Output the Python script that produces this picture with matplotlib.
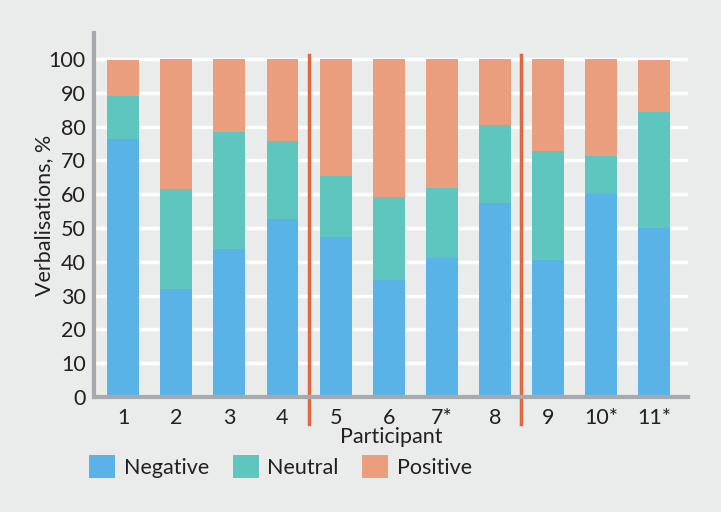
import matplotlib.pyplot as plt
import numpy as np

# Data (% of verbalisations per participant)
participants = ['1', '2', '3', '4', '5', '6', '7*', '8', '9', '10*', '11*']
negative = [76.3, 32.0, 43.8, 52.7, 47.3, 34.5, 41.0, 57.5, 40.5, 60.1, 49.9]
neutral = [12.7, 29.6, 34.6, 23.0, 18.0, 24.6, 20.8, 22.9, 32.2, 11.1, 34.5]
positive = [10.8, 38.4, 21.6, 24.3, 34.7, 40.9, 38.2, 19.6, 27.3, 28.8, 15.4]
group_breaks = [3.5, 7.5]

bg = '#eaeceb'
c_neg = '#5ab3e6'
c_neu = '#5ec6bf'
c_pos = '#ea9e7e'
c_line = '#e06840'
c_axis = '#a8a9ad'
c_text = '#231f20'

plt.rcParams['font.family'] = ['Lato', 'DejaVu Sans']
fs = 15.5

fig = plt.figure(figsize=(7.21, 5.12), dpi=100, facecolor=bg)
ax = fig.add_axes([0.1304, 0.2246, 0.824, 0.711])
ax.set_facecolor(bg)

x = np.arange(len(participants))
neg = np.array(negative)
neu = np.array(neutral)
pos = np.array(positive)
w = 0.6
ax.bar(x, neg, w, color=c_neg, label='Negative', zorder=3)
ax.bar(x, neu, w, bottom=neg, color=c_neu, label='Neutral', zorder=3)
ax.bar(x, pos, w, bottom=neg + neu, color=c_pos, label='Positive', zorder=3)

for b in group_breaks:
    ax.plot([b, b], [-8, 101.2], color=c_line, lw=2.5, clip_on=False, zorder=4)

ax.set_xlim(-0.55, 10.64)
ax.set_ylim(0, 107.7)
ax.set_yticks(range(0, 101, 10))
ax.set_xticks(x)
ax.set_xticklabels(participants)
ax.tick_params(length=0, colors=c_text, labelsize=fs)
ax.tick_params(axis='y', pad=6)
ax.tick_params(axis='x', pad=8)
ax.yaxis.grid(True, color='white', lw=2.5, zorder=0)
ax.set_axisbelow(True)

for s in ['top', 'right']:
    ax.spines[s].set_visible(False)
for s in ['left', 'bottom']:
    ax.spines[s].set_color(c_axis)
    ax.spines[s].set_linewidth(3)
    ax.spines[s].set_zorder(5)

ax.set_ylabel('Verbalisations, %', color=c_text, fontsize=fs, labelpad=-4)
ax.set_xlabel('Participant', color=c_text, fontsize=fs, labelpad=-1)

fig.legend(loc='lower left', bbox_to_anchor=(0.112, 0.05), ncol=3, frameon=False,
           handlelength=1.2, handleheight=1.2, handletextpad=0.4,
           columnspacing=1.1, borderaxespad=0, fontsize=fs, labelcolor=c_text)

fig.savefig('out.png', dpi=100, facecolor=bg)
